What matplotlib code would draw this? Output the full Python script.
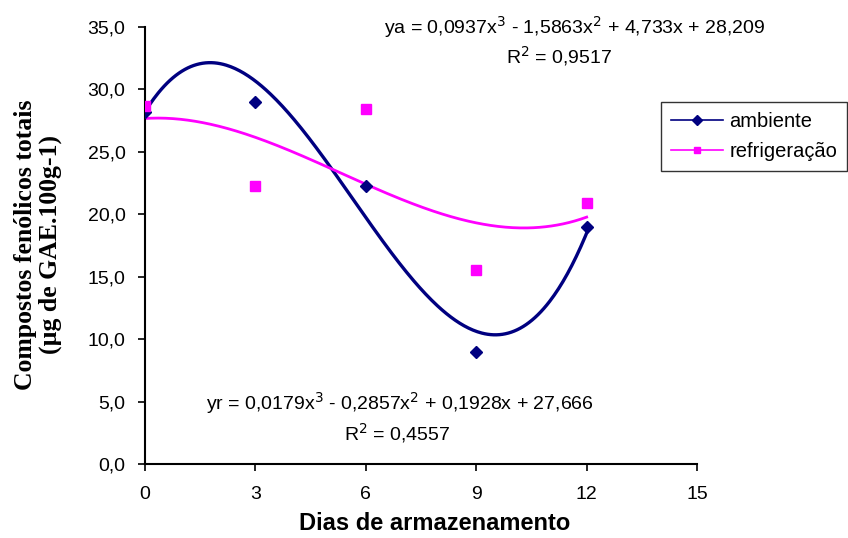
import numpy as np
import matplotlib
matplotlib.use("Agg")
import matplotlib.pyplot as plt
from matplotlib.ticker import FuncFormatter
from matplotlib.lines import Line2D

plt.rcParams['font.family'] = ['Liberation Sans', 'DejaVu Sans']

# Storage days and total phenolic compounds
dias = [0, 3, 6, 9, 12]
ambiente = [28.2, 29.0, 22.3, 9.0, 19.0]
refrigeracao = [28.7, 22.3, 28.4, 15.5, 20.9]

# Cubic trendline coefficients (x^3, x^2, x, const)
coef_a = [0.0937, -1.5863, 4.733, 28.209]
coef_r = [0.0179, -0.2857, 0.1928, 27.666]
r2_a = "0,9517"
r2_r = "0,4557"

x_ticks = [0, 3, 6, 9, 12, 15]
y_ticks = [0, 5, 10, 15, 20, 25, 30, 35]

cor_a = '#000080'
cor_r = '#ff00ff'

fig = plt.figure(figsize=(8.48, 5.38), dpi=100)
ax = fig.add_axes([0.171, 0.1375, 0.651, 0.8125])

xs = np.linspace(dias[0], dias[-1], 300)
ax.plot(xs, np.polyval(coef_a, xs), color=cor_a, lw=2.4, zorder=2)
ax.plot(xs, np.polyval(coef_r, xs), color=cor_r, lw=2.0, zorder=2)

ax.plot(dias, ambiente, linestyle='none', marker='D', ms=6, color=cor_a, zorder=3)
ax.plot(dias, refrigeracao, linestyle='none', marker='s', ms=7, color=cor_r, zorder=3)

ax.set_xlim(0, 15)
ax.set_ylim(0, 35)
ax.set_xticks(x_ticks)
ax.set_yticks(y_ticks)
ax.yaxis.set_major_formatter(FuncFormatter(lambda v, p: f"{v:.1f}".replace('.', ',')))
ax.tick_params(direction='out', length=5, width=1.2, labelsize=14, colors='black')
ax.tick_params(axis='x', pad=11)
ax.tick_params(axis='y', pad=9)
for s in ['top', 'right']:
    ax.spines[s].set_visible(False)
for s in ['left', 'bottom']:
    ax.spines[s].set_linewidth(1.5)

ax.set_xlabel('Dias de armazenamento', fontsize=17, fontweight='bold')
ax.xaxis.set_label_coords(0.525, -0.11)
fig.text(0.045, 0.545, 'Compostos fenólicos totais\n(µg de GAE.100g-1)', rotation=90,
         ha='center', va='center', fontsize=18.5, fontweight='bold',
         family='Liberation Serif', linespacing=1.1)

def eq(c, nome):
    def f(v):
        return f"{abs(v):g}".replace('.', ',')
    return (f"{nome} = {f(c[0])}x$^3$ - {f(c[1])}x$^2$ + {f(c[2])}x + {f(c[3])}")

ax.text(0.778, 1.0, eq(coef_a, 'ya'), transform=ax.transAxes, ha='center', va='center', fontsize=14)
ax.text(0.750, 0.934, f"R$^2$ = {r2_a}", transform=ax.transAxes, ha='center', va='center', fontsize=14)
ax.text(0.462, 0.14, eq(coef_r, 'yr'), transform=ax.transAxes, ha='center', va='center', fontsize=14)
ax.text(0.457, 0.072, f"R$^2$ = {r2_r}", transform=ax.transAxes, ha='center', va='center', fontsize=14)

handles = [Line2D([], [], color=cor_a, marker='D', ms=5, lw=1.2),
           Line2D([], [], color=cor_r, marker='s', ms=5, lw=1.2)]
leg = fig.legend(handles, ['ambiente', 'refrigeração'], loc='upper right',
                 bbox_to_anchor=(0.999, 0.81), borderaxespad=0, fontsize=14.5,
                 frameon=True, fancybox=False, edgecolor='black', handlelength=2.6,
                 borderpad=0.5, labelspacing=0.55, handletextpad=0.3)
leg.get_frame().set_linewidth(1.0)

fig.savefig('out.png', dpi=100)
